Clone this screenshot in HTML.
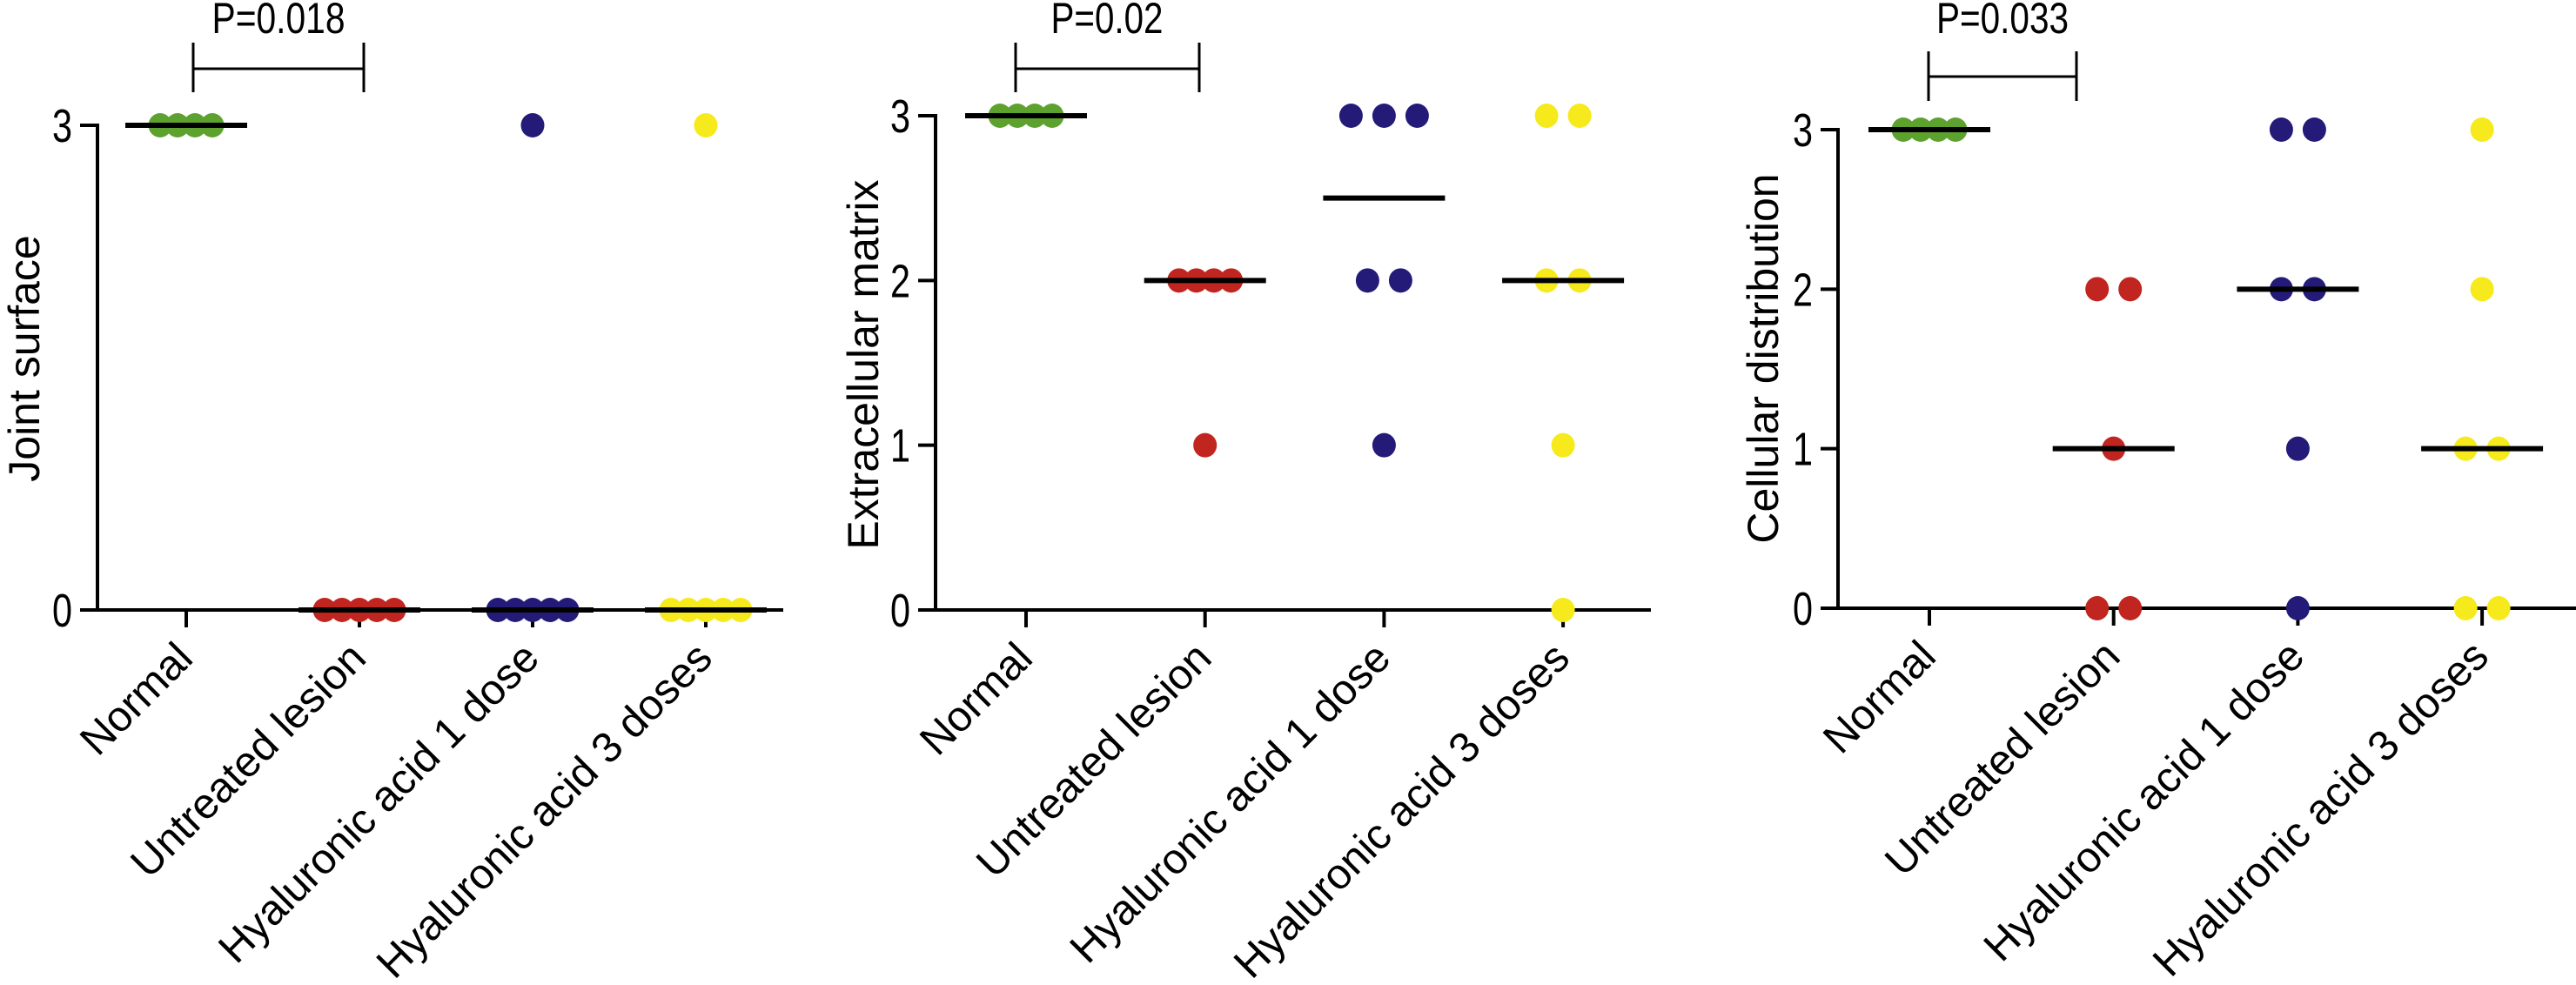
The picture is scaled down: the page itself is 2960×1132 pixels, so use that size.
<!DOCTYPE html>
<html><head><meta charset="utf-8"><style>
html,body{margin:0;padding:0;background:#fff;}
svg{display:block;font-family:"Liberation Sans",sans-serif;}
</style></head>
<body>
<svg id="chart" width="2960" height="1132" viewBox="0 0 2960 1132" xmlns="http://www.w3.org/2000/svg"></svg>
<script>
const categories = ["Normal","Untreated lesion","Hyaluronic acid 1 dose","Hyaluronic acid 3 doses"];
const colors = ["#5da22f","#c1251f","#241b79","#f6ea1c"];
const panelTitles = ["Joint surface","Extracellular matrix","Cellular distribution"];
const pLabels = ["P=0.018","P=0.02","P=0.033"];
const jointNormal = [3,3,3,3];
const jointUntreated = [0,0,0,0,0];
const jointHA1 = [3,0,0,0,0,0];
const jointHA3 = [3,0,0,0,0,0];
const jointMedians = [3,0,0,0];
const ecmNormal = [3,3,3,3];
const ecmUntreated = [2,2,2,2,1];
const ecmHA1 = [3,3,3,2,2,1];
const ecmHA3 = [3,3,2,2,1,0];
const ecmMedians = [3,2,2.5,2];
const cellNormal = [3,3,3,3];
const cellUntreated = [2,2,1,0,0];
const cellHA1 = [3,3,2,2,1,0];
const cellHA3 = [3,2,1,1,0,0];
const cellMedians = [3,1,2,1];
const jointTicks = [0,3];
const ecmTicks = [0,1,2,3];
const cellTicks = [0,1,2,3];

const NS="http://www.w3.org/2000/svg";
const svg=document.getElementById('chart');
function mk(tag,attrs,parent){const e=document.createElementNS(NS,tag);for(const k in attrs)e.setAttribute(k,attrs[k]);(parent||svg).appendChild(e);return e;}

const layouts=[
 {ax:112,top:144,bot:701,x0:214,dx:199,end:900,br:[222,418,49,106,79],pt:[320,38],tx:28,ty:412},
 {ax:1075,top:133,bot:701,x0:1179,dx:205.7,end:1897,br:[1167,1378,49,106,79],pt:[1272,38],tx:992,ty:419},
 {ax:2112,top:149,bot:699,x0:2217,dx:211.7,end:2960,br:[2216,2386,59,116,88],pt:[2301,38],tx:2026,ty:412}
];
const pWidths=[153,129,152];
const data=[[jointNormal,jointUntreated,jointHA1,jointHA3],[ecmNormal,ecmUntreated,ecmHA1,ecmHA3],[cellNormal,cellUntreated,cellHA1,cellHA3]];
const medians=[jointMedians,ecmMedians,cellMedians];
const ticks=[jointTicks,ecmTicks,cellTicks];

layouts.forEach((L,p)=>{
  const g=mk('g',{});
  
  
  const y=v=>L.bot-(v/3)*(L.bot-L.top);
  const x=i=>L.x0+i*L.dx;
  const yax=mk('line',{x1:L.ax,y1:L.top-2,x2:L.ax,y2:L.bot+2,stroke:'#000','stroke-width':4},g);
  
  
  const xax=mk('line',{x1:L.ax-20,y1:L.bot,x2:L.end,y2:L.bot,stroke:'#000','stroke-width':4},g);
  
  
  ticks[p].forEach(t=>{
    mk('line',{x1:L.ax-20,y1:y(t),x2:L.ax,y2:y(t),stroke:'#000','stroke-width':4},g);
    const tl=mk('text',{x:L.ax-29,y:y(t)+19,'text-anchor':'end','font-size':54,textLength:23,lengthAdjust:'spacingAndGlyphs'},g);
    tl.textContent=t;
    
    
  });
  const title=mk('text',{x:L.tx,y:L.ty,'text-anchor':'middle','font-size':50,transform:`rotate(-90 ${L.tx} ${L.ty})`,'dominant-baseline':'central'},g);
  title.textContent=panelTitles[p];
  
  
  categories.forEach((c,i)=>{
    mk('line',{x1:x(i),y1:L.bot,x2:x(i),y2:L.bot+20,stroke:'#000','stroke-width':4},g);
    const ax=x(i)+10, ay=L.bot+58;
    const cl=mk('text',{x:ax,y:ay,'text-anchor':'end','font-size':49,transform:`rotate(-45 ${ax} ${ay})`},g);
    cl.textContent=c;
    
    
    const vals=data[p][i];
    const groups={};
    vals.forEach(v=>{(groups[v]=groups[v]||[]).push(v);});
    Object.keys(groups).forEach(k=>{
      const n=groups[k].length;
      const step=n>=4?20:38;
      groups[k].forEach((v,j)=>{
        const cx=x(i)+(j-(n-1)/2)*step;
        const d=mk('ellipse',{cx:cx,cy:y(v),rx:13.5,ry:14,fill:colors[i]},g);
        
        
      });
    });
    const m=mk('line',{x1:x(i)-70,y1:y(medians[p][i]),x2:x(i)+70,y2:y(medians[p][i]),stroke:'#000','stroke-width':6},g);
    
    
  });
  const b=L.br;
  const br=mk('path',{d:`M${b[0]},${b[2]} V${b[3]} M${b[1]},${b[2]} V${b[3]} M${b[0]},${b[4]} H${b[1]}`,stroke:'#000','stroke-width':3,fill:'none'},g);
  
  
  const pt=mk('text',{x:L.pt[0],y:L.pt[1],'text-anchor':'middle','font-size':50,textLength:pWidths[p],lengthAdjust:'spacingAndGlyphs'},g);
  pt.textContent=pLabels[p];
  
  
});
</script>
</body></html>
